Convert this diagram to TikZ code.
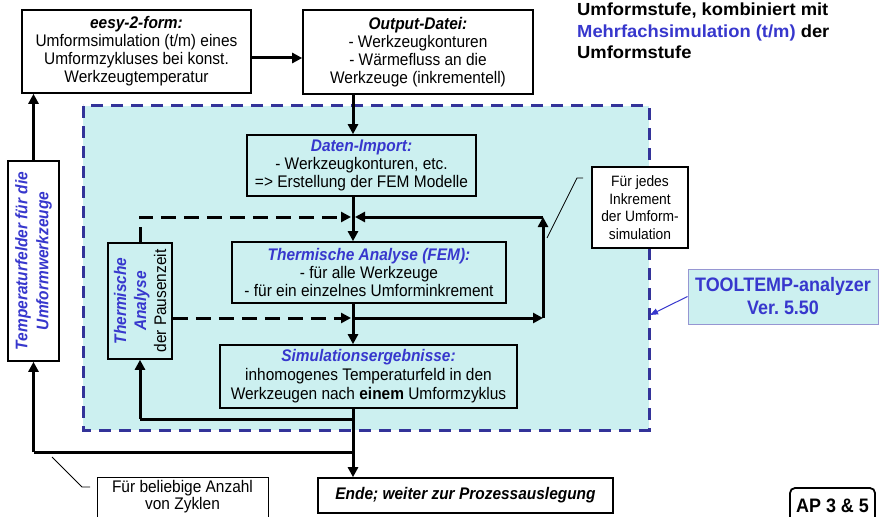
\documentclass[tikz,border=0pt]{standalone}
\usepackage{fontspec}
\setmainfont{Liberation Sans}[FakeStretch=0.92]
\newfontfamily\widefont{Liberation Sans}[FakeStretch=1.05]
\usetikzlibrary{arrows.meta}
\definecolor{tblue}{RGB}{55,55,205}
\definecolor{dblue}{RGB}{51,51,153}
\definecolor{cyanfill}{RGB}{204,240,240}
\definecolor{tlight}{RGB}{150,150,210}
\newcommand{\mainsz}{\fontsize{16.8}{18}\selectfont}
\newcommand{\bihd}[1]{{\bfseries\itshape #1}}
\newcommand{\bluehd}[1]{{\color{tblue}\bfseries\itshape #1}}
\tikzset{
  box/.style={draw, line width=1.6pt, align=center, inner sep=0pt, font=\mainsz},
  arr/.style={line width=3pt, -{Triangle[length=10pt,width=10pt]}},
  plainline/.style={line width=3pt},
  darr/.style={arr, dash pattern=on 15pt off 8pt},
  callout/.style={line width=0.8pt},
}
\begin{document}
\begin{tikzpicture}[x=1pt,y=-1pt]
\useasboundingbox (0,0) rectangle (882,516);
\fill[white] (0,0) rectangle (882,516);

% analyzer area
\draw[fill=cyanfill, draw=dblue, line width=3pt, dash pattern=on 12pt off 8pt] (83,106) rectangle (649,430);

% top boxes
\node[box, minimum width=229pt, minimum height=83pt] (eesy) at (136.5,51.5)
  {\bihd{eesy-2-form:}\\Umformsimulation (t/m) eines\\Umformzykluses bei konst.\\Werkzeugtemperatur};
\node[box, minimum width=230pt, minimum height=84pt] (out) at (418,52)
  {\bihd{Output-Datei:}\\- Werkzeugkonturen\\- Wärmefluss an die\\Werkzeuge (inkrementell)};

% top right text
\node[anchor=north west, inner sep=0pt, align=left,
      font=\widefont\bfseries\fontsize{17.5}{21.5}\selectfont] (tr) at (577,3)
  {Umformstufe, kombiniert mit\\{\color{tblue}Mehrfachsimulation (t/m)} der\\Umformstufe};

% inner boxes
\node[box, minimum width=229pt, minimum height=61pt] (dat) at (361.5,165.5)
  {\bluehd{Daten-Import:}\\- Werkzeugkonturen, etc.\\=> Erstellung der FEM Modelle};
\node[box, minimum width=274pt, minimum height=61pt] (therm) at (369,272.5)
  {\bluehd{Thermische Analyse (FEM):}\\- für alle Werkzeuge\\- für ein einzelnes Umforminkrement};
\node[box, minimum width=297pt, minimum height=63pt, font=\fontsize{16.8}{19}\selectfont] (sim) at (368.5,376.5)
  {\bluehd{Simulationsergebnisse:}\\inhomogenes Temperaturfeld in den\\Werkzeugen nach \textbf{einem} Umformzyklus};

% Pausenzeit box
\node[draw, line width=1.6pt, minimum width=64pt, minimum height=116pt, inner sep=0pt] (paus) at (140,301) {};
\node[rotate=90, align=center, inner sep=0pt, font=\fontsize{16.8}{20}\selectfont] (paustxt) at (paus.center)
  {\bluehd{Thermische}\\\bluehd{Analyse}\\der Pausenzeit};

% Temperaturfelder box
\node[draw, line width=1.6pt, minimum width=51pt, minimum height=200pt, inner sep=0pt] (temp) at (33.5,261) {};
\node[rotate=90, align=center, inner sep=0pt, text=tblue, font=\bfseries\itshape\fontsize{16.8}{21}\selectfont] (temptxt) at (temp.center)
  {Temperaturfelder für die\\Umformwerkzeuge};

% bottom boxes
\node[box, minimum width=295pt, minimum height=35pt, font=\bfseries\itshape\fontsize{16.8}{18}\selectfont] (ende) at (465.5,495.5)
  {Ende; weiter zur Prozessauslegung};
\node[draw, line width=0.8pt, minimum width=171pt, minimum height=48pt, inner sep=0pt] (fbel) at (182.5,501) {};
\node[align=center, inner sep=0pt, font=\fontsize{16.8}{17}\selectfont] (fbeltxt) at (182.5,497)
  {Für beliebige Anzahl\\von Zyklen};
\node[draw, line width=1.8pt, rounded corners=5pt, minimum width=85pt, minimum height=36pt, inner sep=0pt,
      font=\bfseries\fontsize{19.5}{22}\selectfont] (ap) at (832.5,506) {AP 3 \& 5};

% side notes
\node[draw, fill=white, line width=1.4pt, minimum width=96pt, minimum height=81pt, align=center, inner sep=0pt,
      font=\fontsize{15}{17.5}\selectfont] (fje) at (640,207.5)
  {Für jedes\\Inkrement\\der Umform-\\simulation};
\node[draw=tlight, fill=cyanfill, line width=1pt, minimum width=190pt, minimum height=55pt, align=center, inner sep=0pt,
      text=tblue, font=\bfseries\fontsize{19.5}{23}\selectfont] (tool) at (783,296.5)
  {TOOLTEMP-analyzer\\Ver.~5.50};

% helper coordinates
\coordinate (xm) at (353,0);
\coordinate (ya) at (0,58);
\coordinate (j1) at (353,217);
\coordinate (j2) at (353,318);
\coordinate (j3) at (353,419);
\coordinate (j4) at (353,452);
\coordinate (r1) at (543,217);
\coordinate (r2) at (543,318);
\coordinate (ttend) at (650,315);
\coordinate (c1a) at (90,487);
\coordinate (c1b) at (82,487);
\coordinate (c1c) at (52,457);
\coordinate (c2a) at (583,178);
\coordinate (c2b) at (577,178);
\coordinate (c2c) at (547,238);

% connectors
\draw[arr] (eesy.east |- ya) -- (out.west |- ya);
\draw[arr] (out.south -| xm) -- (dat.north -| xm);
\draw[arr] (dat.south -| xm) -- (therm.north -| xm);
\draw[arr] (therm.south -| xm) -- (sim.north -| xm);
\draw[arr] (sim.south -| xm) -- (ende.north -| xm);
\draw[arr] (j2) -- (r2);
\draw[arr] (r2) -- (r1);
\draw[arr] (r1) -- ([xshift=2pt]j1);
\draw[darr] (paus.north) -- (paus.north |- j1) -- ([xshift=-2pt]j1);
\draw[darr] (paus.east |- j2) -- ([xshift=-2pt]j2);
\draw[plainline] (j3) -- (paus.south |- j3);
\draw[arr] (paus.south |- j3) -- (paus.south);
\draw[plainline] (j4) -- (temp.south |- j4);
\draw[arr] (temp.south |- j4) -- (temp.south);
\draw[arr] (temp.north) -- (eesy.south -| temp.north);

% callouts
\draw[callout] (c1a) -- (c1b) -- (c1c);
\draw[callout] (c2a) -- (c2b) -- (c2c);
\draw[line width=1pt, tblue, -{Triangle[length=8pt,width=6pt]}] (tool.west) -- (ttend);
\end{tikzpicture}
\end{document}
